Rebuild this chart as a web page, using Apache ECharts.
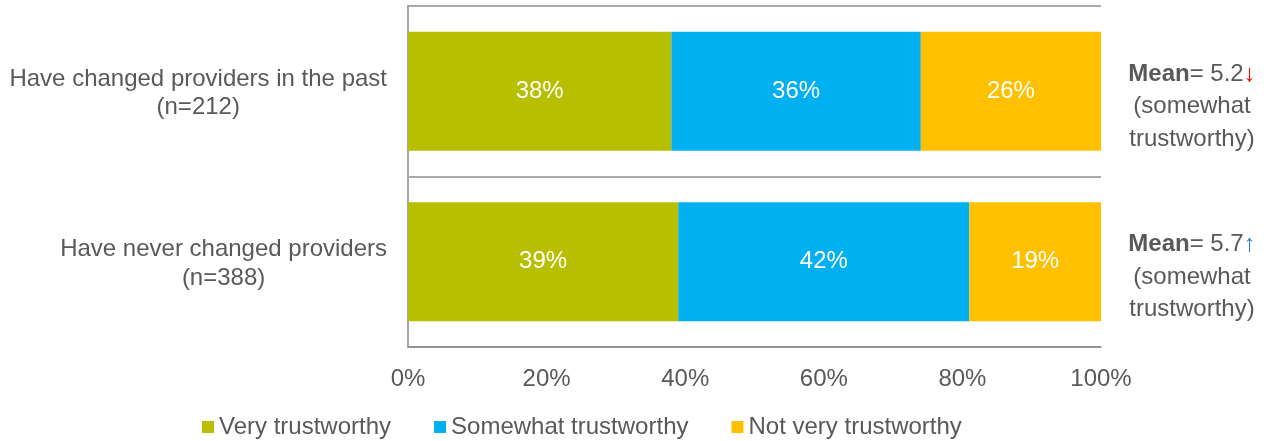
<!DOCTYPE html>
<html>
<head>
<meta charset="utf-8">
<script src="https://cdn.jsdelivr.net/npm/echarts@6/dist/echarts.min.js"></script>
<style>
  html, body { margin: 0; padding: 0; background: #fff; }
  #chart { width: 1273px; height: 441px; }
</style>
</head>
<body>
<div id="chart"></div>
<script>
// Groups shown on the category axis, with sample sizes
const groups = ['Have changed providers in the past', 'Have never changed providers'];
const sampleSizes = ['(n=212)', '(n=388)'];

// Share of respondents per rating (%)
const veryTrustworthy = [38, 39];
const somewhatTrustworthy = [36, 42];
const notVeryTrustworthy = [26, 19];

// Mean score per group and its direction marker
const meanScores = ['5.2', '5.7'];
const meanDirections = ['down', 'up'];
const meanLabel = '(somewhat\ntrustworthy)';

// Value axis ticks
const xTicks = [0, 20, 40, 60, 80, 100];

const seriesNames = ['Very trustworthy', 'Somewhat trustworthy', 'Not very trustworthy'];
const colors = ['#B7BF00', '#00B0F0', '#FFC000'];
const textGray = '#595959';
const lineGray = '#8C8C8C';
const FONT = '"Liberation Sans", Arial, sans-serif';
const FS = 24;

const chart = echarts.init(document.getElementById('chart'), null, { renderer: 'canvas' });

function barSeries(name, data, color) {
  return {
    name: name,
    type: 'bar',
    stack: 'total',
    barWidth: 119,
    data: data,
    itemStyle: { color: color },
    label: {
      show: true,
      position: 'inside',
      color: '#fff',
      fontFamily: FONT,
      fontSize: FS,
      formatter: p => p.value + '%'
    },
    emphasis: { disabled: true }
  };
}

chart.setOption({
  animation: false,
  textStyle: { fontFamily: FONT },
  color: colors,
  grid: { left: 408, right: 172, top: 6, bottom: 94, containLabel: false },
  xAxis: {
    type: 'value',
    min: xTicks[0],
    max: xTicks[xTicks.length - 1],
    interval: 20,
    axisLine: { show: true, lineStyle: { color: lineGray, width: 1.5 } },
    axisTick: { show: false },
    splitLine: { show: false },
    axisLabel: {
      color: textGray,
      fontFamily: FONT,
      fontSize: FS,
      margin: 20,
      formatter: v => v + '%'
    }
  },
  yAxis: [
    {
      type: 'category',
      data: groups,
      inverse: true,
      axisLine: { show: true, lineStyle: { color: '#A6A6A6', width: 2 } },
      axisTick: { show: false },
      splitLine: { show: true, lineStyle: { color: lineGray, width: 1.5 } },
      axisLabel: {
        color: textGray,
        fontFamily: FONT,
        fontSize: FS,
        margin: 21,
        padding: [4, 0, 0, 0],
        formatter: (v, i) => '{t|' + v + '}\n{t|' + sampleSizes[i] + '}',
        rich: {
          t: { align: 'center', color: textGray, fontFamily: FONT, fontSize: FS, lineHeight: 28.5 }
        }
      }
    },
    {
      type: 'category',
      data: groups,
      inverse: true,
      position: 'right',
      axisLine: { show: false },
      axisTick: { show: false },
      splitLine: { show: false },
      axisLabel: {
        align: 'center',
        margin: 91,
        padding: [31, 0, 0, 0],
        formatter: (v, i) => {
          const arrow = meanDirections[i] === 'down' ? '{dn|↓}' : '{up|↑}';
          const rest = meanLabel.split('\n').map(s => '{n|' + s + '}').join('\n');
          return '{b|Mean}{n|= ' + meanScores[i] + '}' + arrow + '\n' + rest;
        },
        rich: {
          b: { fontWeight: 'bold', color: textGray, fontFamily: FONT, fontSize: FS, lineHeight: 32.5 },
          n: { color: textGray, fontFamily: FONT, fontSize: FS, lineHeight: 32.5 },
          dn: { color: '#FF0000', fontFamily: FONT, fontSize: FS, lineHeight: 32.5 },
          up: { color: '#1F80D0', fontFamily: FONT, fontSize: FS, lineHeight: 32.5 }
        }
      }
    }
  ],
  legend: {
    left: 197,
    top: 410,
    icon: 'rect',
    itemWidth: 12,
    itemHeight: 12,
    itemGap: 43,
    textStyle: { color: textGray, fontFamily: FONT, fontSize: FS },
    data: seriesNames
  },
  series: [
    barSeries(seriesNames[0], veryTrustworthy, colors[0]),
    barSeries(seriesNames[1], somewhatTrustworthy, colors[1]),
    barSeries(seriesNames[2], notVeryTrustworthy, colors[2])
  ]
});
</script>
</body>
</html>
